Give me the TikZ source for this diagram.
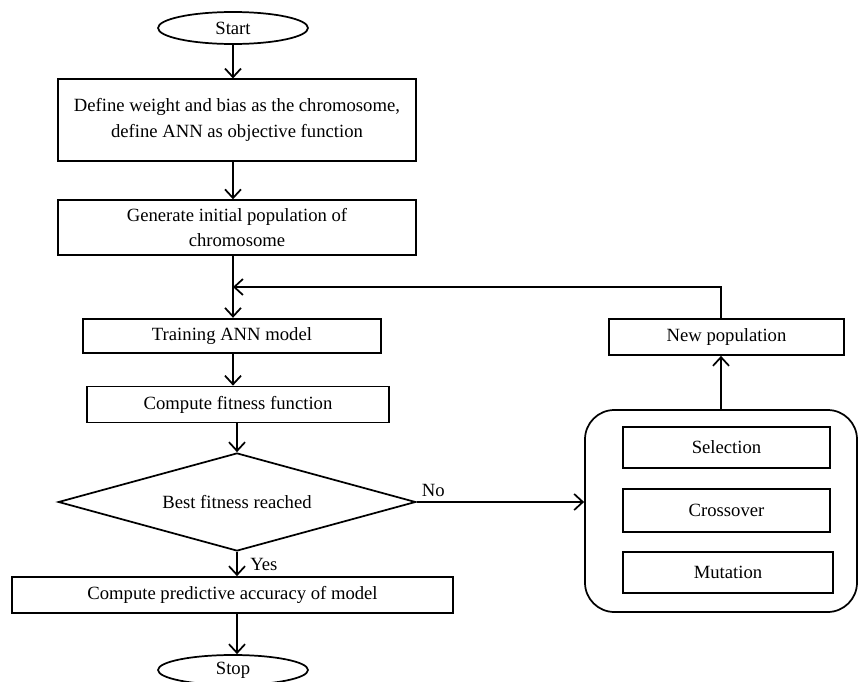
\documentclass[tikz,border=0pt]{standalone}
\usepackage{fontspec}
\setmainfont{Liberation Serif}
\usetikzlibrary{positioning, arrows.meta, shapes.geometric}
\tikzset{
  procbox/.style={
    draw, line width=1.3pt, align=center, inner sep=2pt
  },
  terminal/.style={
    draw, ellipse, line width=1.3pt, inner sep=0pt
  },
  decision/.style={
    draw, diamond, aspect=3.6, line width=1.3pt, inner sep=0pt
  },
  operators/.style={
    draw, rounded corners=22pt, line width=1.3pt
  },
  arrow/.style={-{Straight Barb[length=6.5pt,width=12pt]}, line width=1.3pt},
  answer/.style={font=\fontsize{14}{17}\selectfont}
}

\begin{document}
\begin{tikzpicture}[x=0.75pt, y=-0.75pt, font=\fontsize{14}{19}\selectfont]
  \useasboundingbox (0,0) rectangle (858,682);
  \node[terminal, minimum width=112.5pt, minimum height=24pt] (start) at (233,28) {Start};
  \node[procbox, minimum width=268.5pt, minimum height=61pt] (define) at (237,120) {Define weight and bias as the chromosome,\\define ANN as objective function};
  \node[procbox, minimum width=269pt, minimum height=41pt] (init) at (237,227.5) {Generate initial population of\\chromosome};
  \node[procbox, minimum width=223.5pt, minimum height=26pt] (train) at (232,336) {Training ANN model};
  \node[procbox, minimum width=226.5pt, minimum height=27pt] (fitness) at (238,404.5) {Compute fitness function};
  \node[decision, minimum width=268pt, minimum height=73.5pt] (best) at (237,502) {Best fitness reached};
  \node[procbox, minimum width=330.75pt, minimum height=27pt] (accuracy) at (232.5,595) {Compute predictive accuracy of model};
  \node[terminal, minimum width=112.5pt, minimum height=22.5pt] (stop) at (233,670) {Stop};

  \node[operators, minimum width=204pt, minimum height=151.5pt] (ops) at (721,511) {};
  \node[procbox, minimum width=155pt, minimum height=31pt] (selection) at (726.5,447.5) {Selection};
  \node[procbox, minimum width=155pt, minimum height=32pt] (crossover) at (726.5,510.5) {Crossover};
  \node[procbox, minimum width=157.5pt, minimum height=31pt] (mutation) at (728,572.5) {Mutation};
  \node[procbox, minimum width=176pt, minimum height=27pt] (newpop) at (726.5,337) {New population};
  \coordinate (merge) at (233,287);

  \draw[arrow] (start.south) -- (start.south |- define.north);
  \draw[arrow] (define.south -| merge) -- (merge |- init.north);
  \draw[arrow] (init.south -| merge) -- (merge |- train.north);
  \draw[arrow] (train.south -| merge) -- (merge |- fitness.north);
  \draw[arrow] (best.north |- fitness.south) -- (best.north);
  \draw[arrow] (best.east) -- node[answer, pos=0.1, above] {No} (best.east -| ops.west);
  \draw[arrow] (best.south) -- node[answer, right=6pt] {Yes} (best.south |- accuracy.north);
  \draw[arrow] (best.south |- accuracy.south) -- (best.south |- stop.north);
  \draw[arrow] (ops.north) -- (ops.north |- newpop.south);
  \draw[arrow] (ops.north |- newpop.north) |- (merge);
\end{tikzpicture}
\end{document}
